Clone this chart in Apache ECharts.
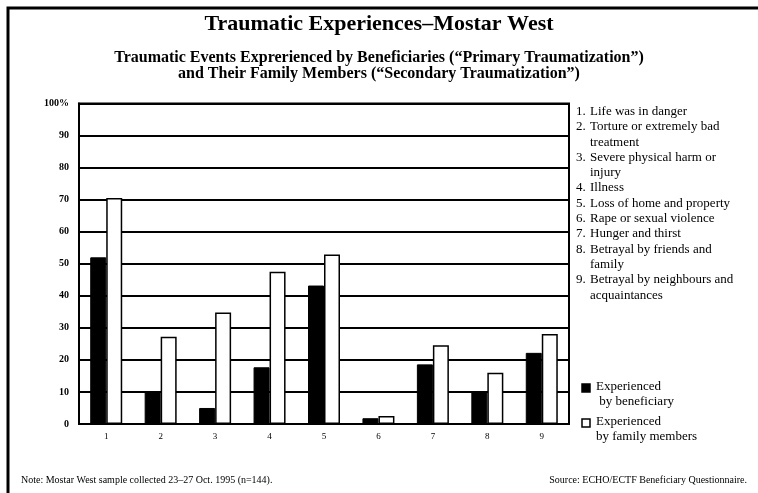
<!DOCTYPE html>
<html>
<head>
<meta charset="utf-8">
<script src="https://cdn.jsdelivr.net/npm/echarts@6/dist/echarts.min.js"></script>
<style>
  html, body { margin: 0; padding: 0; background: #fff; }
  #chart { width: 758px; height: 493px; }
</style>
</head>
<body>
<div id="chart"></div>
<script>
// event numbers on the x axis
const categories = ['1', '2', '3', '4', '5', '6', '7', '8', '9']
// % experienced by the beneficiary (black) and by family members (white)
const beneficiary = [52, 10, 5, 17.7, 43.2, 1.8, 18.6, 9.9, 22.2]
const familyMembers = [70.5, 27.2, 34.8, 47.5, 52.9, 2.5, 24.6, 16, 28.1]
// list of events shown at the right, wrapped as in the original
const eventLabels = [
  ['Life was in danger'],
  ['Torture or extremely bad', 'treatment'],
  ['Severe physical harm or', 'injury'],
  ['Illness'],
  ['Loss of home and property'],
  ['Rape or sexual violence'],
  ['Hunger and thirst'],
  ['Betrayal by friends and', 'family'],
  ['Betrayal by neighbours and', 'acquaintances']
]
const seriesNames = ['Experienced by beneficiary', 'Experienced by family members']
const legendLines = [
  ['Experienced', ' by beneficiary'],
  ['Experienced', 'by family members']
]
const seriesColors = ['#000', '#fff']

const serif = '"Liberation Serif", "DejaVu Serif", serif'

const chart = echarts.init(document.getElementById('chart'))

// numbered list on the right
const listItems = []
let lineIdx = 0
eventLabels.forEach((lines, i) => {
  const y = 105 + lineIdx * 15.3
  listItems.push({
    type: 'text', left: 576, top: y,
    style: { text: (i + 1) + '.', font: '13px ' + serif, fill: '#000' }
  })
  lines.forEach((ln, k) => {
    listItems.push({
      type: 'text', left: 590, top: y + k * 15.3,
      style: { text: ln, font: '13px ' + serif, fill: '#000' }
    })
  })
  lineIdx += lines.length
})

// series key (square + two lines of text)
const keyItems = []
legendLines.forEach((lines, i) => {
  const y = 380 + i * 35
  keyItems.push({
    type: 'rect',
    shape: { x: 582, y: y + 4, width: 8, height: 8 },
    style: { fill: seriesColors[i], stroke: '#000', lineWidth: 1.5 }
  })
  lines.forEach((ln, k) => {
    keyItems.push({
      type: 'text', left: 596, top: y + k * 15.5,
      style: { text: ln, font: '13px ' + serif, fill: '#000' }
    })
  })
})

chart.setOption({
  animation: false,
  title: [
    {
      text: 'Traumatic Experiences\u2013Mostar West',
      left: 'center',
      top: 8,
      textStyle: { fontFamily: serif, fontSize: 22, fontWeight: 'bold', color: '#000' },
      subtext: 'Traumatic Events Exprerienced by Beneficiaries (\u201cPrimary Traumatization\u201d)\nand Their Family Members (\u201cSecondary Traumatization\u201d)',
      subtextStyle: { fontFamily: serif, fontSize: 16, fontWeight: 'bold', color: '#000', lineHeight: 16, align: 'center' },
      itemGap: 15
    },
    {
      text: 'Note: Mostar West sample collected 23\u201327 Oct. 1995 (n=144).',
      left: 16, top: 470,
      textStyle: { fontFamily: serif, fontSize: 10, fontWeight: 'normal', color: '#000' }
    },
    {
      text: 'Source: ECHO/ECTF Beneficiary Questionnaire.',
      right: 6, top: 470,
      textStyle: { fontFamily: serif, fontSize: 10, fontWeight: 'normal', color: '#000' }
    }
  ],
  grid: {
    left: 79, right: 189, top: 103.5, bottom: 69,
    show: true, borderColor: '#000', borderWidth: 2, backgroundColor: 'transparent'
  },
  xAxis: {
    type: 'category',
    data: categories,
    axisLine: { lineStyle: { color: '#000', width: 2 } },
    axisTick: { show: false },
    axisLabel: { fontFamily: serif, fontSize: 9, color: '#000', margin: 8 }
  },
  yAxis: {
    type: 'value',
    min: 0, max: 100, interval: 10,
    axisLine: { show: true, lineStyle: { color: '#000', width: 2 } },
    axisTick: { show: false },
    splitLine: { lineStyle: { color: '#000', width: 2 } },
    axisLabel: {
      fontFamily: serif, fontSize: 10, fontWeight: 'bold', color: '#000', margin: 10,
      formatter: v => v === 100 ? '100%' : v
    }
  },
  series: [
    {
      name: seriesNames[0],
      type: 'bar',
      data: beneficiary,
      barWidth: 16,
      barGap: '0%',
      itemStyle: { color: seriesColors[0], borderColor: '#000', borderWidth: 1 }
    },
    {
      name: seriesNames[1],
      type: 'bar',
      data: familyMembers,
      barWidth: 16,
      itemStyle: { color: seriesColors[1], borderColor: '#000', borderWidth: 1.5 }
    }
  ],
  graphic: [
    {
      type: 'polyline',
      shape: { points: [[8, 493], [8, 8], [758, 8]] },
      style: { stroke: '#000', lineWidth: 3, fill: null }
    },
    ...listItems,
    ...keyItems
  ]
})
</script>
</body>
</html>
